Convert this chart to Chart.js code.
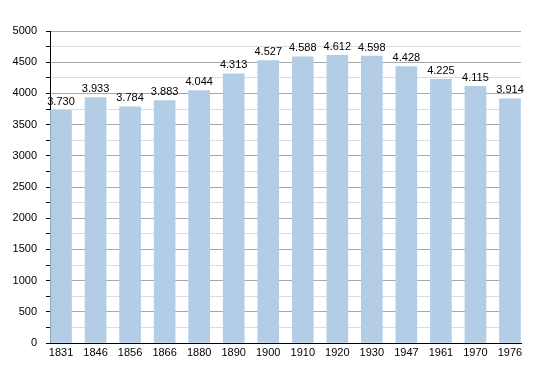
<!DOCTYPE html>
<html>
<head>
<meta charset="utf-8">
<script src="https://cdn.jsdelivr.net/npm/chart.js@4"></script>
<style>
  html, body { margin: 0; padding: 0; background: #fff; }
  #wrap { width: 550px; height: 373px; }
</style>
</head>
<body>
<div id="wrap"><canvas id="chart"></canvas></div>
<script>
// Dati
var years = ['1831', '1846', '1856', '1866', '1880', '1890', '1900', '1910', '1920', '1930', '1947', '1961', '1970', '1976']
var population = [3730, 3933, 3784, 3883, 4044, 4313, 4527, 4588, 4612, 4598, 4428, 4225, 4115, 3914]
var yTicks = [0, 500, 1000, 1500, 2000, 2500, 3000, 3500, 4000, 4500, 5000]

function fmt(v) {
    return String(v).replace(/\B(?=(\d{3})+(?!\d))/g, '.')
}

// etichette sopra le barre
var valueLabels = {
    id: 'valueLabels',
    afterDatasetsDraw: function (chart) {
        var ctx = chart.ctx
        var meta = chart.getDatasetMeta(0)
        ctx.save()
        ctx.font = '11px "Liberation Sans", Arial, sans-serif'
        ctx.fillStyle = '#000'
        ctx.textAlign = 'center'
        ctx.textBaseline = 'bottom'
        meta.data.forEach(function (bar, i) {
            ctx.fillText(fmt(population[i]), bar.x, bar.y - 3)
        })
        ctx.restore()
    }
}

var points = population.map(function (v, i) { return { x: i, y: v } })

new Chart(document.getElementById('chart').getContext('2d'), {
    type: 'bar',
    data: {
        datasets: [{
            data: points,
            backgroundColor: '#b3cde6',
            borderWidth: 0,
            barThickness: 21
        }]
    },
    options: {
        responsive: true,
        maintainAspectRatio: false,
        animation: false,
        layout: { padding: { top: 31, right: 29, bottom: 0, left: 0 } },
        plugins: { legend: { display: false }, tooltip: { enabled: false } },
        scales: {
            x: {
                type: 'linear',
                offset: false,
                min: -0.319,
                max: 13.319,
                afterBuildTicks: function (s) {
                    s.ticks = years.map(function (y, i) { return { value: i } })
                },
                afterFit: function (s) { s.height = 30 },
                grid: { display: true, offset: false, drawOnChartArea: false, drawTicks: false },
                border: { display: true, color: '#000', width: 1 },
                ticks: {
                    autoSkip: false,
                    maxRotation: 0,
                    padding: 3,
                    color: '#000',
                    font: { family: '"Liberation Sans", Arial, sans-serif', size: 11 },
                    callback: function (v) { return years[v] }
                }
            },
            y: {
                min: 0,
                max: 5000,
                afterBuildTicks: function (s) {
                    var t = []
                    for (var v = 0; v <= 5000; v += 250) t.push({ value: v })
                    s.ticks = t
                },
                afterFit: function (s) { s.width = 50 },
                grid: {
                    color: function (c) { return c.tick && c.tick.value % 500 === 0 ? '#a8a8a8' : '#dcdcdc' },
                    tickColor: '#000',
                    tickLength: 4
                },
                border: { display: true, color: '#000', width: 1 },
                ticks: {
                    autoSkip: false,
                    padding: 9,
                    color: '#000',
                    font: { family: '"Liberation Sans", Arial, sans-serif', size: 11 },
                    callback: function (v) { return yTicks.indexOf(v) >= 0 ? String(v) : '' }
                }
            }
        }
    },
    plugins: [valueLabels]
})
</script>
</body>
</html>
